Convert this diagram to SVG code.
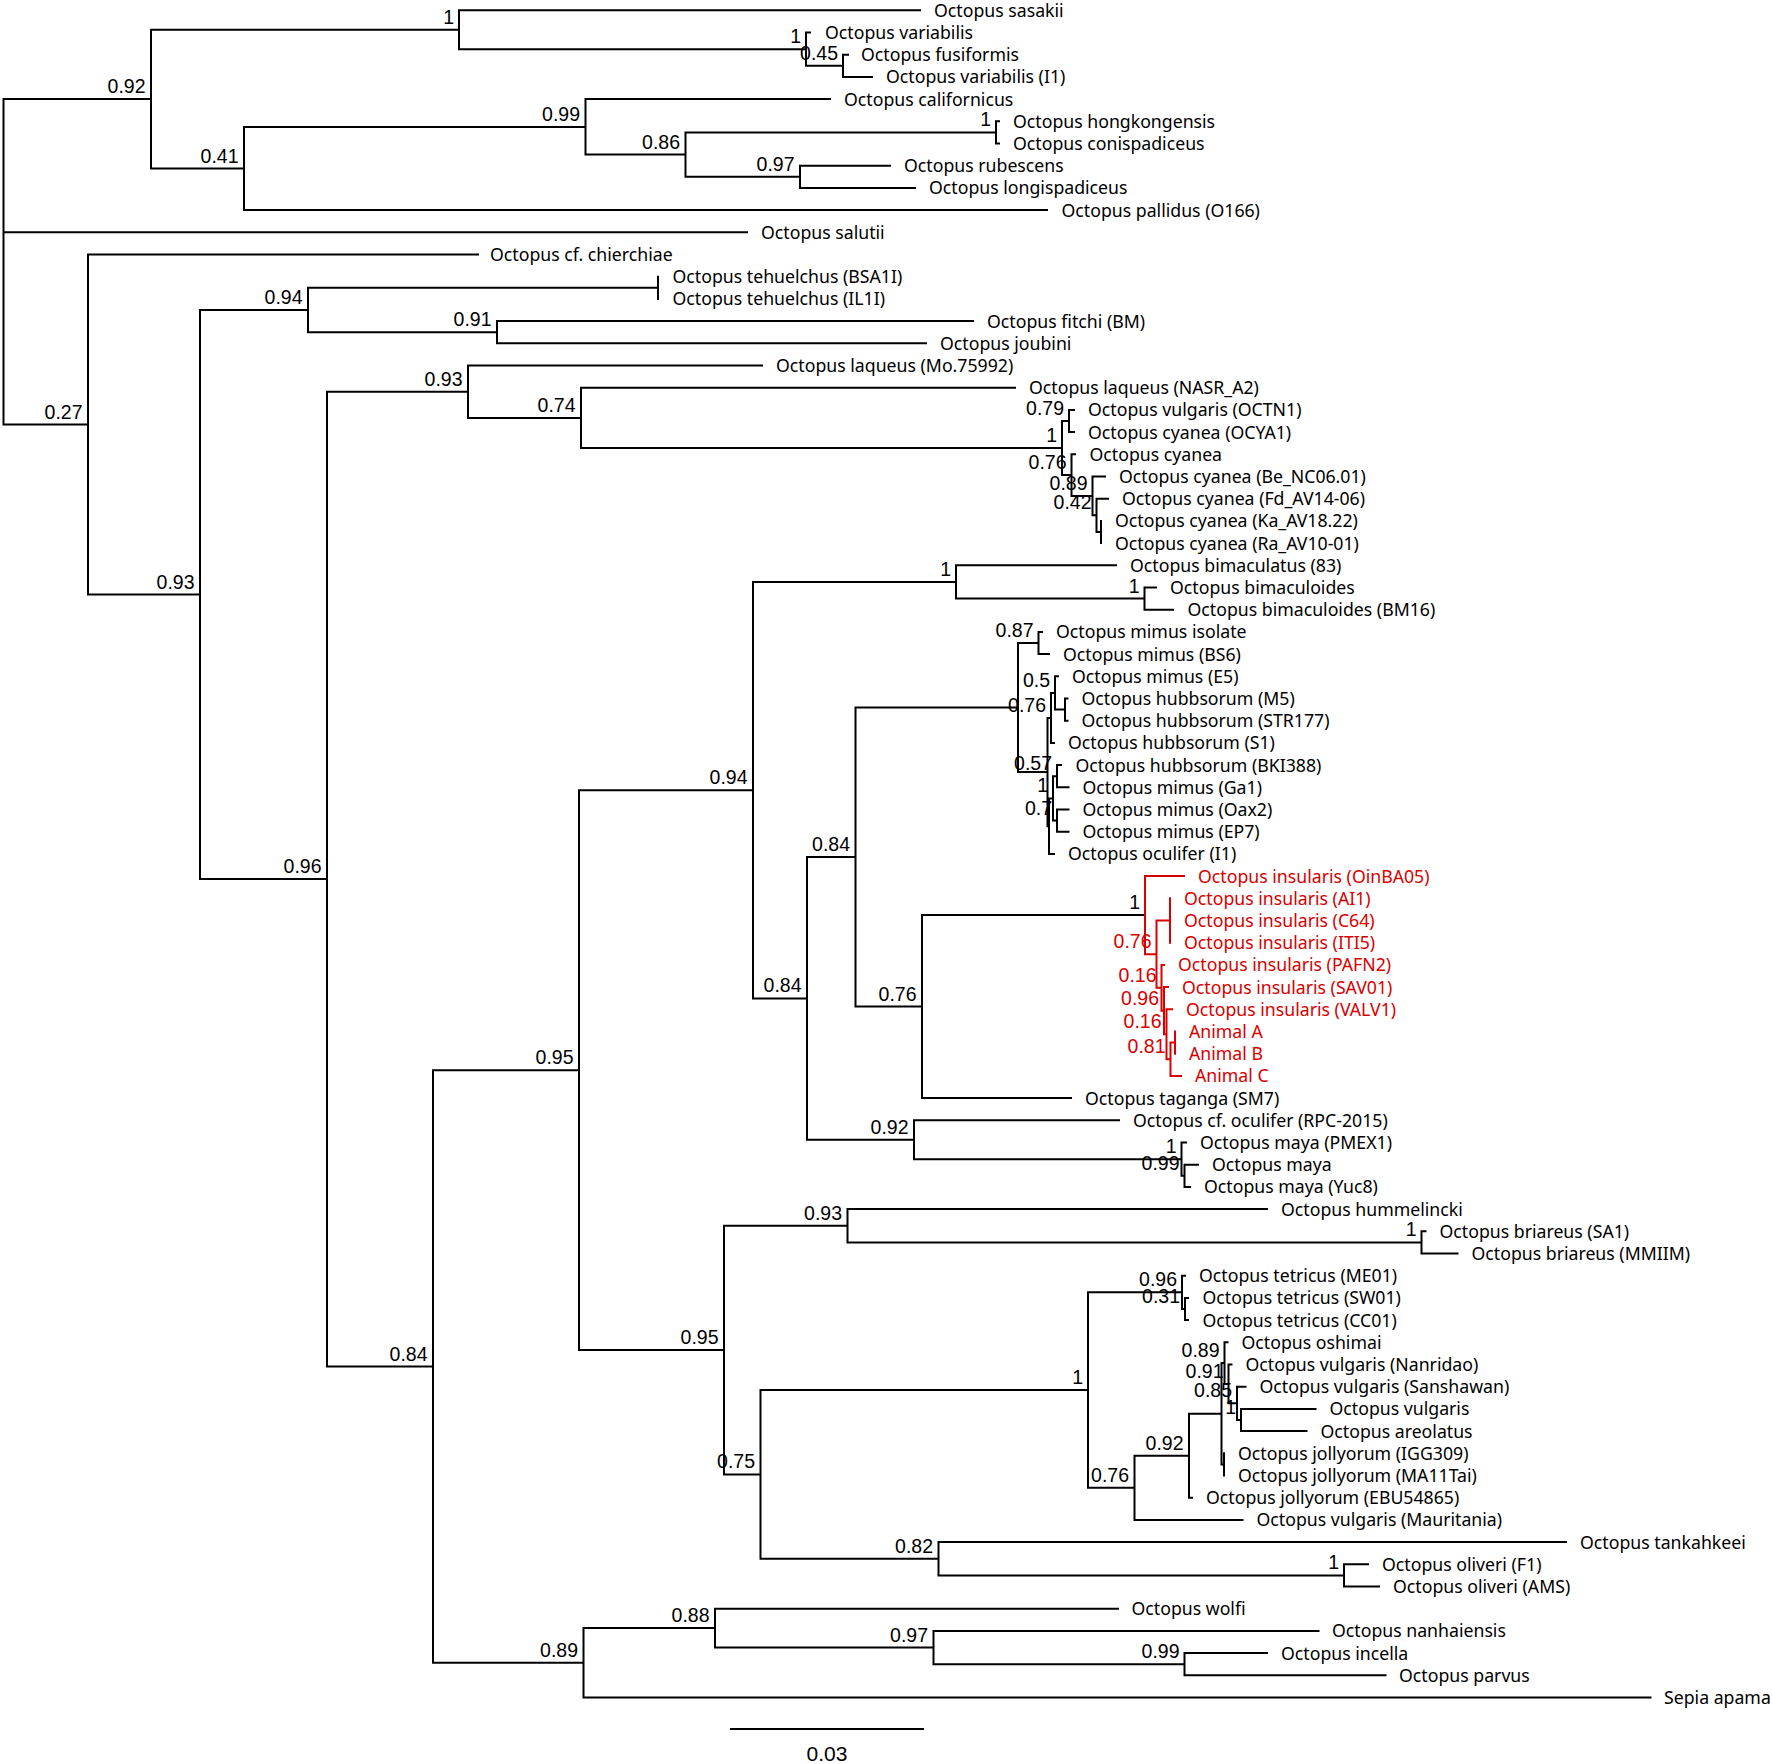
<svg xmlns="http://www.w3.org/2000/svg" width="1772" height="1764" viewBox="0 0 1772 1764">
<style>
.br{fill:none;stroke:#000;stroke-width:2;stroke-linecap:square}
.rb{fill:none;stroke:#d90000;stroke-width:2;stroke-linecap:square}
.t{font-family:"Noto Sans","Open Sans",sans-serif;font-size:17.7px;fill:#000}
.n{font-family:"Liberation Sans",Arial,sans-serif;font-size:19.5px;fill:#000;text-anchor:end}
.r{fill:#d90000}
</style>
<rect width="1772" height="1764" fill="#fff"/>
<g id="connectors">
<path class="br" d="M3.5 99.1V424.5M3.5 99.1H151M3.5 232.3H747M3.5 424.5H88
M151 29.7V168.5M151 29.7H459M151 168.5H244
M459 10.3V49.15M459 10.3H920M459 49.15H806
M806 32.5V65.8M806 32.5H810M806 65.8H843
M843 54.7V76.9M843 54.7H848M843 76.9H872
M244 126.9V210.1M244 126.9H585.5M244 210.1H1047
M585.5 99.1V154.6M585.5 99.1H830M585.5 154.6H685.5
M685.5 132.4V176.8M685.5 132.4H996M685.5 176.8H800
M996 121.3V143.5M996 121.3H999M996 143.5H999
M800 165.7V187.9M800 165.7H890M800 187.9H915
M88 254.5V594.55M88 254.5H478M88 594.55H200
M200 310V879.1M200 310H308M200 879.1H327
M308 287.8V332.2M308 287.8H658M308 332.2H497
M658 276.7V298.9
M497 321.1V343.3M497 321.1H973M497 343.3H926
M327 391.7V1366.5M327 391.7H468M327 1366.5H433
M468 365.5V417.9M468 365.5H762M468 417.9H581
M581 387.7V448.05M581 387.7H1015M581 448.05H1062
M1062 421V475.1M1062 421H1069M1062 475.1H1071.5
M1069 409.9V432.1M1069 409.9H1074M1069 432.1H1074
M1071.5 454.3V495.9M1071.5 454.3H1075M1071.5 495.9H1092.5
M1092.5 476.5V515.35M1092.5 476.5H1105M1092.5 515.35H1096.5
M1096.5 498.7V532M1096.5 498.7H1108M1096.5 532H1101
M1101 520.9V543.1
M433 1070.15V1662.8M433 1070.15H579M433 1662.8H583.5
M579 790.2V1350.1M579 790.2H753M579 1350.1H724
M753 581.95V998.4M753 581.95H956M753 998.4H807
M956 565.3V598.6M956 565.3H1116M956 598.6H1144.5
M1144.5 587.5V609.7M1144.5 587.5H1156M1144.5 609.7H1173
M807 857V1139.7M807 857H855.5M807 1139.7H914
M855.5 707.5V1006.6M855.5 707.5H1018M855.5 1006.6H922
M1018 643V772.1M1018 643H1038.5M1018 772.1H1047.5
M1038.5 631.9V654.1M1038.5 631.9H1042M1038.5 654.1H1049
M1047.5 718V826.2M1047.5 718H1051M1047.5 826.2H1049
M1051 693V742.9M1051 693H1055M1051 742.9H1054
M1055 676.3V709.6M1055 676.3H1058M1055 709.6H1065
M1065 698.5V720.7M1065 698.5H1067.5M1065 720.7H1067.5
M1049 798.4V853.9M1049 798.4H1053M1049 853.9H1054
M1053 776.2V820.6M1053 776.2H1057M1053 820.6H1057
M1057 765.1V787.3M1057 765.1H1061M1057 787.3H1068.5
M1057 809.5V831.7M1057 809.5H1068.5M1057 831.7H1068.5
M922 915.1V1098.1M922 915.1H1145M922 1098.1H1071
M914 1120.3V1159.15M914 1120.3H1119M914 1159.15H1181.5
M1181.5 1142.5V1175.8M1181.5 1142.5H1186M1181.5 1175.8H1184.5
M1184.5 1164.7V1186.9M1184.5 1164.7H1198M1184.5 1186.9H1190
M724 1225.75V1474.4M724 1225.75H847.5M724 1474.4H760.5
M847.5 1209.1V1242.4M847.5 1209.1H1267M847.5 1242.4H1421.5
M1421.5 1231.3V1253.5M1421.5 1231.3H1425.5M1421.5 1253.5H1457.5
M760.5 1390.1V1558.75M760.5 1390.1H1088M760.5 1558.75H938.5
M1088 1292.35V1487.8M1088 1292.35H1182M1088 1487.8H1134.5
M1182 1275.7V1309M1182 1275.7H1185M1182 1309H1185
M1185 1297.9V1320.1M1185 1297.9H1188M1185 1320.1H1188
M1134.5 1455.7V1519.9M1134.5 1455.7H1189M1134.5 1519.9H1242.5
M1189 1413.75V1497.7M1189 1413.75H1221.5M1189 1497.7H1192
M1221.5 1363.1V1464.4M1221.5 1363.1H1224.5M1221.5 1464.4H1224
M1224.5 1342.3V1383.9M1224.5 1342.3H1227.5M1224.5 1383.9H1228.5
M1228.5 1364.5V1403.35M1228.5 1364.5H1231.5M1228.5 1403.35H1237
M1237 1386.7V1420M1237 1386.7H1245.5M1237 1420H1241
M1241 1408.9V1431.1M1241 1408.9H1315.5M1241 1431.1H1306.5
M1224 1453.3V1475.5
M938.5 1542.1V1575.4M938.5 1542.1H1566M938.5 1575.4H1344
M1344 1564.3V1586.5M1344 1564.3H1368M1344 1586.5H1379
M583.5 1628.1V1697.5M583.5 1628.1H715M583.5 1697.5H1650.5
M715 1608.7V1647.55M715 1608.7H1118M715 1647.55H933.5
M933.5 1630.9V1664.2M933.5 1630.9H1318.5M933.5 1664.2H1184.5
M1184.5 1653.1V1675.3M1184.5 1653.1H1267M1184.5 1675.3H1385.5"/>
<path class="rb" d="M1145 876.1V954.15M1145 876.1H1184M1145 954.15H1156.5
M1156.5 920.5V987.8M1156.5 920.5H1170M1156.5 987.8H1161.5
M1170 898.3V942.7
M1161.5 964.9V1010.7M1161.5 964.9H1164M1161.5 1010.7H1164
M1164 987.1V1034.3M1164 987.1H1168M1164 1034.3H1166.5
M1166.5 1009.3V1059.25M1166.5 1009.3H1172M1166.5 1059.25H1170.5
M1170.5 1042.6V1075.9M1170.5 1042.6H1175M1170.5 1075.9H1181
M1175 1031.5V1053.7"/>
</g>
<g id="scale-bar">
<path class="br" d="M731 1729H923"/>
<text class="n" x="827" y="1761" style="text-anchor:middle;font-size:21px">0.03</text>
</g>
<g id="support-values">
<g id="n-092"><text class="n" x="145.5" y="93.1">0.92</text></g>
<g id="n-1a"><text class="n" x="454" y="23.7">1</text></g>
<g id="n-var"><text class="n" x="801" y="43.15">1</text></g>
<g id="n-045"><text class="n" x="838" y="59.8">0.45</text></g>
<g id="n-041"><text class="n" x="238.5" y="162.5">0.41</text></g>
<g id="n-099"><text class="n" x="580" y="120.9">0.99</text></g>
<g id="n-086"><text class="n" x="680" y="148.6">0.86</text></g>
<g id="n-1b"><text class="n" x="991" y="126.4">1</text></g>
<g id="n-097"><text class="n" x="794.5" y="170.8">0.97</text></g>
<g id="n-027"><text class="n" x="82.5" y="418.5">0.27</text></g>
<g id="n-093a"><text class="n" x="194.5" y="588.55">0.93</text></g>
<g id="n-094a"><text class="n" x="302.5" y="304">0.94</text></g>
<g id="n-091"><text class="n" x="491.5" y="326.2">0.91</text></g>
<g id="n-096"><text class="n" x="321.5" y="873.1">0.96</text></g>
<g id="n-093b"><text class="n" x="462.5" y="385.7">0.93</text></g>
<g id="n-074"><text class="n" x="575.5" y="411.9">0.74</text></g>
<g id="n-1c"><text class="n" x="1057" y="442.05">1</text></g>
<g id="n-079"><text class="n" x="1064" y="415">0.79</text></g>
<g id="n-076"><text class="n" x="1066.5" y="469.1">0.76</text></g>
<g id="n-089"><text class="n" x="1087.5" y="489.9">0.89</text></g>
<g id="n-042"><text class="n" x="1091.5" y="509.35">0.42</text></g>
<g id="n-084a"><text class="n" x="427.5" y="1360.5">0.84</text></g>
<g id="n-095a"><text class="n" x="573.5" y="1064.15">0.95</text></g>
<g id="n-094b"><text class="n" x="747.5" y="784.2">0.94</text></g>
<g id="n-1d"><text class="n" x="951" y="575.95">1</text></g>
<g id="n-1e"><text class="n" x="1139.5" y="592.6">1</text></g>
<g id="n-084b"><text class="n" x="801.5" y="992.4">0.84</text></g>
<g id="n-084c"><text class="n" x="850" y="851">0.84</text></g>
<g id="n-087"><text class="n" x="1033.5" y="637">0.87</text></g>
<g id="n-076c"><text class="n" x="1046" y="712">0.76</text></g>
<g id="n-05"><text class="n" x="1050" y="687">0.5</text></g>
<g id="n-1x"><text class="n" x="1048" y="792.4">1</text></g>
<g id="n-057"><text class="n" x="1052" y="770.2">0.57</text></g>
<g id="n-07"><text class="n" x="1052" y="814.6">0.7</text></g>
<g id="n-076b"><text class="n" x="916.5" y="1000.6">0.76</text></g>
<g id="n-1f"><text class="n" x="1140" y="909.1">1</text></g>
<g id="n-076d"><text class="n r" x="1151.5" y="948.15">0.76</text></g>
<g id="n-016a"><text class="n r" x="1156.5" y="981.8">0.16</text></g>
<g id="n-096c"><text class="n r" x="1159" y="1004.7">0.96</text></g>
<g id="n-016b"><text class="n r" x="1161.5" y="1028.3">0.16</text></g>
<g id="n-081"><text class="n r" x="1165.5" y="1053.25">0.81</text></g>
<g id="n-092b"><text class="n" x="908.5" y="1133.7">0.92</text></g>
<g id="n-1h"><text class="n" x="1176.5" y="1153.15">1</text></g>
<g id="n-099b"><text class="n" x="1179.5" y="1169.8">0.99</text></g>
<g id="n-095b"><text class="n" x="718.5" y="1344.1">0.95</text></g>
<g id="n-093c"><text class="n" x="842" y="1219.75">0.93</text></g>
<g id="n-1i"><text class="n" x="1416.5" y="1236.4">1</text></g>
<g id="n-075"><text class="n" x="755" y="1468.4">0.75</text></g>
<g id="n-1j"><text class="n" x="1083" y="1384.1">1</text></g>
<g id="n-096d"><text class="n" x="1177" y="1286.35">0.96</text></g>
<g id="n-031"><text class="n" x="1180" y="1303">0.31</text></g>
<g id="n-076e"><text class="n" x="1129" y="1481.8">0.76</text></g>
<g id="n-092c"><text class="n" x="1183.5" y="1449.7">0.92</text></g>
<g id="n-089c"><text class="n" x="1219.5" y="1357.1">0.89</text></g>
<g id="n-091c"><text class="n" x="1223.5" y="1377.9">0.91</text></g>
<g id="n-085"><text class="n" x="1232" y="1397.35">0.85</text></g>
<g id="n-1k"><text class="n" x="1236" y="1414">1</text></g>
<g id="n-082"><text class="n" x="933" y="1552.75">0.82</text></g>
<g id="n-1l"><text class="n" x="1339" y="1569.4">1</text></g>
<g id="n-089b"><text class="n" x="578" y="1656.8">0.89</text></g>
<g id="n-088"><text class="n" x="709.5" y="1622.1">0.88</text></g>
<g id="n-097b"><text class="n" x="928" y="1641.55">0.97</text></g>
<g id="n-099c"><text class="n" x="1179.5" y="1658.2">0.99</text></g>
</g>
<g id="leaves">
<g id="leaf-01"><text class="t" x="934" y="16.8">Octopus sasakii</text></g>
<g id="leaf-02"><text class="t" x="825" y="39">Octopus variabilis</text></g>
<g id="leaf-03"><text class="t" x="861" y="61.2">Octopus fusiformis</text></g>
<g id="leaf-04"><text class="t" x="886" y="83.4">Octopus variabilis (I1)</text></g>
<g id="leaf-05"><text class="t" x="844" y="105.6">Octopus californicus</text></g>
<g id="leaf-06"><text class="t" x="1013" y="127.8">Octopus hongkongensis</text></g>
<g id="leaf-07"><text class="t" x="1013" y="150">Octopus conispadiceus</text></g>
<g id="leaf-08"><text class="t" x="904" y="172.2">Octopus rubescens</text></g>
<g id="leaf-09"><text class="t" x="929" y="194.4">Octopus longispadiceus</text></g>
<g id="leaf-10"><text class="t" x="1061.5" y="216.6">Octopus pallidus (O166)</text></g>
<g id="leaf-11"><text class="t" x="761" y="238.8">Octopus salutii</text></g>
<g id="leaf-12"><text class="t" x="490" y="261">Octopus cf. chierchiae</text></g>
<g id="leaf-13"><text class="t" x="672.5" y="283.2">Octopus tehuelchus (BSA1I)</text></g>
<g id="leaf-14"><text class="t" x="672.5" y="305.4">Octopus tehuelchus (IL1I)</text></g>
<g id="leaf-15"><text class="t" x="987" y="327.6">Octopus fitchi (BM)</text></g>
<g id="leaf-16"><text class="t" x="940" y="349.8">Octopus joubini</text></g>
<g id="leaf-17"><text class="t" x="776" y="372">Octopus laqueus (Mo.75992)</text></g>
<g id="leaf-18"><text class="t" x="1029" y="394.2">Octopus laqueus (NASR_A2)</text></g>
<g id="leaf-19"><text class="t" x="1088" y="416.4">Octopus vulgaris (OCTN1)</text></g>
<g id="leaf-20"><text class="t" x="1088" y="438.6">Octopus cyanea (OCYA1)</text></g>
<g id="leaf-21"><text class="t" x="1089.5" y="460.8">Octopus cyanea</text></g>
<g id="leaf-22"><text class="t" x="1119" y="483">Octopus cyanea (Be_NC06.01)</text></g>
<g id="leaf-23"><text class="t" x="1122" y="505.2">Octopus cyanea (Fd_AV14-06)</text></g>
<g id="leaf-24"><text class="t" x="1115" y="527.4">Octopus cyanea (Ka_AV18.22)</text></g>
<g id="leaf-25"><text class="t" x="1115" y="549.6">Octopus cyanea (Ra_AV10-01)</text></g>
<g id="leaf-26"><text class="t" x="1130" y="571.8">Octopus bimaculatus (83)</text></g>
<g id="leaf-27"><text class="t" x="1170" y="594">Octopus bimaculoides</text></g>
<g id="leaf-28"><text class="t" x="1187.5" y="616.2">Octopus bimaculoides (BM16)</text></g>
<g id="leaf-29"><text class="t" x="1056" y="638.4">Octopus mimus isolate</text></g>
<g id="leaf-30"><text class="t" x="1063" y="660.6">Octopus mimus (BS6)</text></g>
<g id="leaf-31"><text class="t" x="1072" y="682.8">Octopus mimus (E5)</text></g>
<g id="leaf-32"><text class="t" x="1081.5" y="705">Octopus hubbsorum (M5)</text></g>
<g id="leaf-33"><text class="t" x="1081.5" y="727.2">Octopus hubbsorum (STR177)</text></g>
<g id="leaf-34"><text class="t" x="1068" y="749.4">Octopus hubbsorum (S1)</text></g>
<g id="leaf-35"><text class="t" x="1075.5" y="771.6">Octopus hubbsorum (BKI388)</text></g>
<g id="leaf-36"><text class="t" x="1082.5" y="793.8">Octopus mimus (Ga1)</text></g>
<g id="leaf-37"><text class="t" x="1082.5" y="816">Octopus mimus (Oax2)</text></g>
<g id="leaf-38"><text class="t" x="1082.5" y="838.2">Octopus mimus (EP7)</text></g>
<g id="leaf-39"><text class="t" x="1068" y="860.4">Octopus oculifer (I1)</text></g>
<g id="leaf-40"><text class="t r" x="1198" y="882.6">Octopus insularis (OinBA05)</text></g>
<g id="leaf-41"><text class="t r" x="1184" y="904.8">Octopus insularis (AI1)</text></g>
<g id="leaf-42"><text class="t r" x="1184" y="927">Octopus insularis (C64)</text></g>
<g id="leaf-43"><text class="t r" x="1184" y="949.2">Octopus insularis (ITI5)</text></g>
<g id="leaf-44"><text class="t r" x="1178" y="971.4">Octopus insularis (PAFN2)</text></g>
<g id="leaf-45"><text class="t r" x="1182" y="993.6">Octopus insularis (SAV01)</text></g>
<g id="leaf-46"><text class="t r" x="1186" y="1015.8">Octopus insularis (VALV1)</text></g>
<g id="leaf-47"><text class="t r" x="1189" y="1038">Animal A</text></g>
<g id="leaf-48"><text class="t r" x="1189" y="1060.2">Animal B</text></g>
<g id="leaf-49"><text class="t r" x="1195" y="1082.4">Animal C</text></g>
<g id="leaf-50"><text class="t" x="1085" y="1104.6">Octopus taganga (SM7)</text></g>
<g id="leaf-51"><text class="t" x="1133" y="1126.8">Octopus cf. oculifer (RPC-2015)</text></g>
<g id="leaf-52"><text class="t" x="1200" y="1149">Octopus maya (PMEX1)</text></g>
<g id="leaf-53"><text class="t" x="1212" y="1171.2">Octopus maya</text></g>
<g id="leaf-54"><text class="t" x="1204" y="1193.4">Octopus maya (Yuc8)</text></g>
<g id="leaf-55"><text class="t" x="1281" y="1215.6">Octopus hummelincki</text></g>
<g id="leaf-56"><text class="t" x="1439.5" y="1237.8">Octopus briareus (SA1)</text></g>
<g id="leaf-57"><text class="t" x="1471.5" y="1260">Octopus briareus (MMIIM)</text></g>
<g id="leaf-58"><text class="t" x="1199" y="1282.2">Octopus tetricus (ME01)</text></g>
<g id="leaf-59"><text class="t" x="1202.5" y="1304.4">Octopus tetricus (SW01)</text></g>
<g id="leaf-60"><text class="t" x="1202.5" y="1326.6">Octopus tetricus (CC01)</text></g>
<g id="leaf-61"><text class="t" x="1241.5" y="1348.8">Octopus oshimai</text></g>
<g id="leaf-62"><text class="t" x="1245.5" y="1371">Octopus vulgaris (Nanridao)</text></g>
<g id="leaf-63"><text class="t" x="1259.5" y="1393.2">Octopus vulgaris (Sanshawan)</text></g>
<g id="leaf-64"><text class="t" x="1329.5" y="1415.4">Octopus vulgaris</text></g>
<g id="leaf-65"><text class="t" x="1320.5" y="1437.6">Octopus areolatus</text></g>
<g id="leaf-66"><text class="t" x="1238" y="1459.8">Octopus jollyorum (IGG309)</text></g>
<g id="leaf-67"><text class="t" x="1238" y="1482">Octopus jollyorum (MA11Tai)</text></g>
<g id="leaf-68"><text class="t" x="1206" y="1504.2">Octopus jollyorum (EBU54865)</text></g>
<g id="leaf-69"><text class="t" x="1256.5" y="1526.4">Octopus vulgaris (Mauritania)</text></g>
<g id="leaf-70"><text class="t" x="1580" y="1548.6">Octopus tankahkeei</text></g>
<g id="leaf-71"><text class="t" x="1382" y="1570.8">Octopus oliveri (F1)</text></g>
<g id="leaf-72"><text class="t" x="1393" y="1593">Octopus oliveri (AMS)</text></g>
<g id="leaf-73"><text class="t" x="1131.5" y="1615.2">Octopus wolfi</text></g>
<g id="leaf-74"><text class="t" x="1332" y="1637.4">Octopus nanhaiensis</text></g>
<g id="leaf-75"><text class="t" x="1281" y="1659.6">Octopus incella</text></g>
<g id="leaf-76"><text class="t" x="1399" y="1681.8">Octopus parvus</text></g>
<g id="leaf-77"><text class="t" x="1664" y="1704">Sepia apama</text></g>
</g>
</svg>
